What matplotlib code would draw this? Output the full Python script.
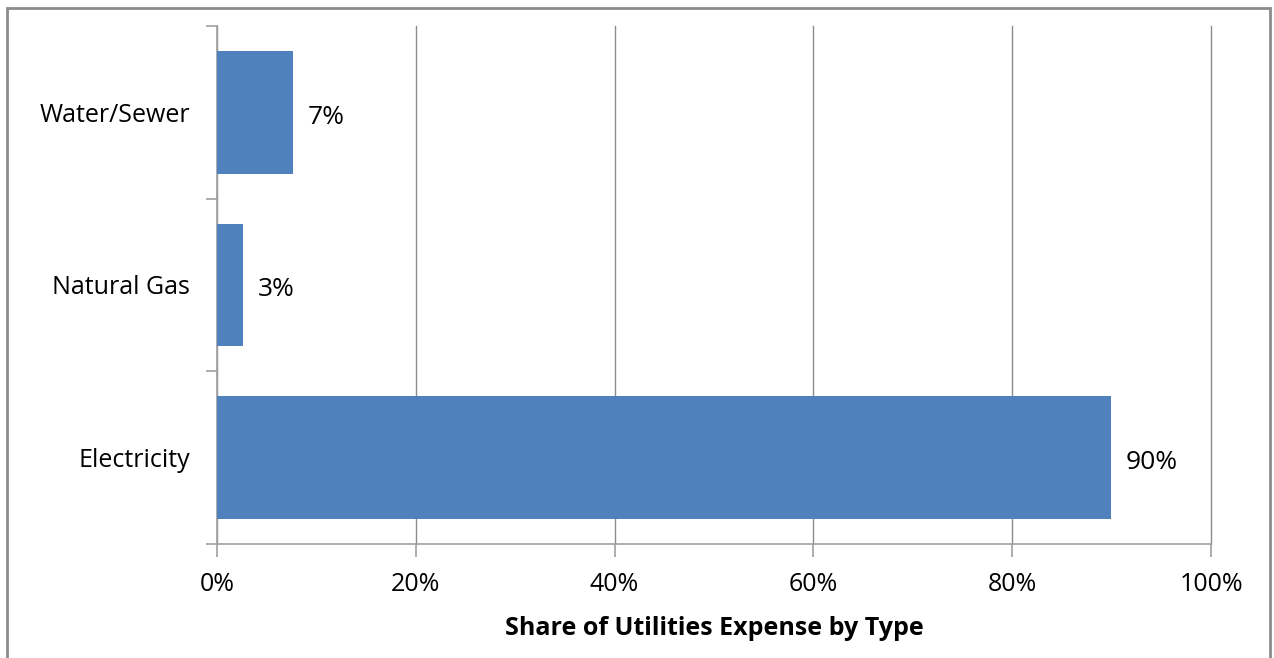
import matplotlib.pyplot as plt
from matplotlib.patches import Rectangle

plt.rcParams['font.family'] = ['Open Sans', 'DejaVu Sans']

categories = ["Electricity", "Natural Gas", "Water/Sewer"]
shares = [0.899, 0.026, 0.076]
labels = ["90%", "3%", "7%"]
xticks = [0, 0.2, 0.4, 0.6, 0.8, 1.0]
xticklabels = ["0%", "20%", "40%", "60%", "80%", "100%"]

fig = plt.figure(figsize=(12.74, 6.58), dpi=100)
ax = fig.add_axes([217 / 1274, 1 - 544 / 658, (1211 - 217) / 1274, (544 - 26) / 658])

ypos = list(range(len(categories)))
ax.barh(ypos, shares, height=0.71, color="#4f81bd", zorder=3)
for y, v, lab in zip(ypos, shares, labels):
    ax.annotate(lab, (v, y), xytext=(11, -3.5), textcoords="offset points",
                va="center", ha="left", fontsize=19, color="black")

ax.set_xlim(0, 1)
ax.set_ylim(-0.5, 2.5)
ax.set_xticks(xticks)
ax.set_xticklabels(xticklabels, fontsize=18)
ax.set_yticks(ypos)
ax.set_yticklabels(categories, fontsize=18)
ax.set_yticks([-0.5, 0.5, 1.5, 2.5], minor=True)
ax.tick_params(axis="y", which="major", length=0, pad=19.5)
ax.tick_params(axis="y", which="minor", length=8, color="#a0a0a0", width=1.2)
ax.tick_params(axis="x", length=9, color="#a0a0a0", width=1.2, pad=11)
ax.grid(axis="x", color="#8c8c8c", linewidth=1.0, zorder=0)
for line in ax.get_xgridlines():
    line.set_clip_on(False)

for side in ["top", "right"]:
    ax.spines[side].set_visible(False)
for side in ["left", "bottom"]:
    ax.spines[side].set_color("#a0a0a0")
    ax.spines[side].set_linewidth(1.2)

ax.set_xlabel("Share of Utilities Expense by Type", fontsize=18, fontweight="bold", labelpad=14)

fig.patches.append(Rectangle((7 / 1274, -0.01), (1270 - 7) / 1274, 1 - 8 / 658 + 0.01,
                             transform=fig.transFigure, fill=False,
                             edgecolor="#8c8c8c", linewidth=2))

fig.savefig("out.png", dpi=100)
